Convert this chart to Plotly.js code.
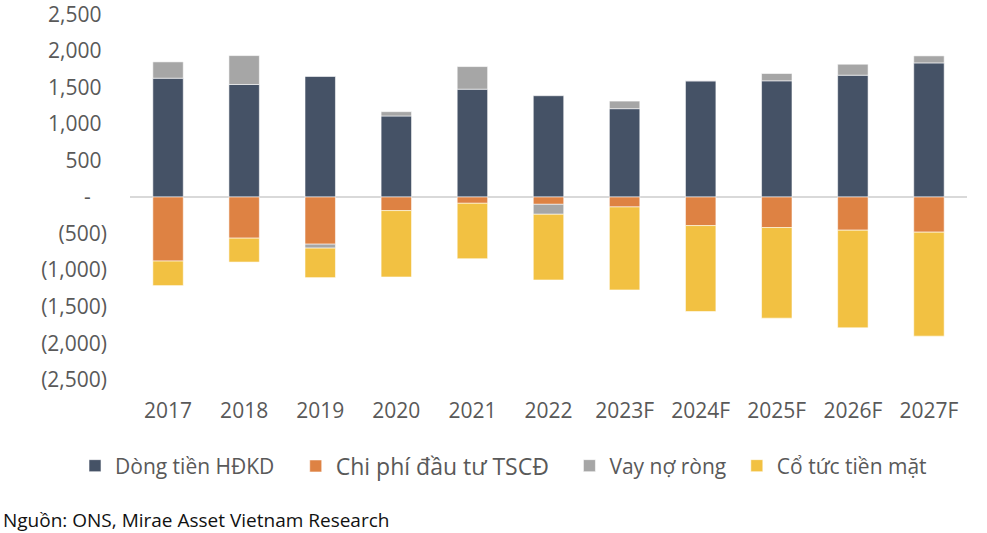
<!DOCTYPE html>
<html>
<head>
<meta charset="utf-8">
<script src="https://cdn.plot.ly/plotly-3.0.1.min.js"></script>
<style>
html,body{margin:0;padding:0;background:#fff;}
#chart{width:987px;height:533px;}
</style>
</head>
<body>
<div id="chart"></div>
<script>
// Categories (years)
const years = ["2017","2018","2019","2020","2021","2022","2023F","2024F","2025F","2026F","2027F"];
// Series values (bn VND)
const dongTienHDKD = [1625, 1539, 1648, 1108, 1475, 1385, 1208, 1589, 1589, 1666, 1834];
const chiPhiDauTu  = [-876, -563, -645, -186, -86, -100, -136, -391, -418, -454, -481];
const vayNoRong    = [223, 395, -54, 59, 309, -136, 104, 0, 100, 150, 96];
const coTucTienMat = [-336, -327, -404, -908, -758, -899, -1135, -1175, -1239, -1335, -1422];
// Series names
const seriesNames = ["Dòng tiền HĐKD", "Chi phí đầu tư TSCĐ", "Vay nợ ròng", "Cổ tức tiền mặt"];
// Y tick labels
const yTickVals = [2500, 2000, 1500, 1000, 500, 0, -500, -1000, -1500, -2000, -2500];
const yTickText = ["2,500\u00A0", "2,000\u00A0", "1,500\u00A0", "1,000\u00A0", "500\u00A0", "-\u00A0\u00A0\u00A0",
                   "(500)", "(1,000)", "(1,500)", "(2,000)", "(2,500)"];
const sourceText = "Nguồn: ONS, Mirae Asset Vietnam Research";

const colors = ["#455266", "#DE8243", "#A6A6A6", "#F2C142"];
const seriesData = [dongTienHDKD, chiPhiDauTu, vayNoRong, coTucTienMat];
const legendIds = ["legend", "legend2", "legend3", "legend4"];

const traces = seriesData.map((vals, i) => ({
  type: "bar",
  name: seriesNames[i],
  x: years,
  y: vals,
  marker: {color: colors[i], line: {color: "rgba(255,255,255,0.7)", width: 0.8}},
  legend: legendIds[i],
  hoverinfo: "x+y+name"
}));

const legendXs = [-0.0657, 0.198, 0.525, 0.725];
const legendSizes = [21, 23, 21, 21];
const legendY = -0.235;
function mkLegend(i) {
  return {orientation: "h", x: legendXs[i], xanchor: "left", y: legendY, yanchor: "middle",
          font: {family: "Open Sans, sans-serif", size: legendSizes[i], color: "#595959"},
          bgcolor: "rgba(0,0,0,0)", borderwidth: 0, traceorder: "normal"};
}

const layout = {
  width: 987,
  height: 533,
  margin: {l: 130, r: 20, t: 14, b: 153},
  paper_bgcolor: "#ffffff",
  plot_bgcolor: "#ffffff",
  barmode: "relative",
  bargap: 0.6,
  font: {family: "Open Sans, sans-serif", color: "#595959"},
  xaxis: {
    type: "category",
    showgrid: false,
    showline: false,
    zeroline: false,
    ticks: "",
    ticklabelstandoff: 16,
    tickfont: {family: "Open Sans, sans-serif", size: 21, color: "#595959"},
    fixedrange: true
  },
  yaxis: {
    range: [-2503, 2503],
    tickvals: yTickVals,
    ticktext: yTickText,
    ticklabeloverflow: "allow",
    showgrid: false,
    showline: false,
    zeroline: true,
    zerolinecolor: "#D9D9D9",
    zerolinewidth: 2,
    ticks: "",
    ticklabelstandoff: 22,
    tickfont: {family: "Open Sans, sans-serif", size: 21, color: "#595959"},
    fixedrange: true
  },
  showlegend: true,
  legend: mkLegend(0),
  legend2: mkLegend(1),
  legend3: mkLegend(2),
  legend4: mkLegend(3),
  annotations: [{
    text: sourceText,
    xref: "paper", yref: "paper",
    x: -0.1541, y: -0.3825,
    xanchor: "left", yanchor: "middle",
    showarrow: false,
    font: {family: "Open Sans, sans-serif", size: 19, color: "#111111"}
  }]
};

Plotly.newPlot("chart", traces, layout, {displayModeBar: false, staticPlot: true});
</script>
</body>
</html>
